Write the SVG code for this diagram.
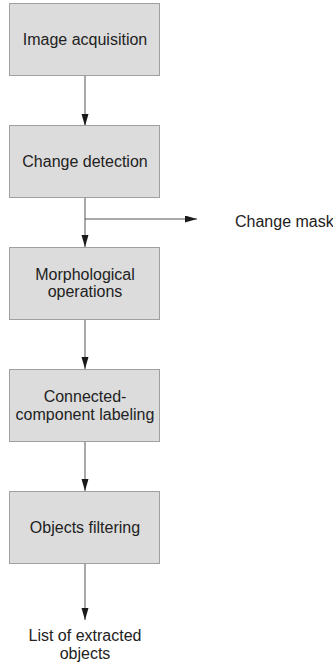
<svg xmlns="http://www.w3.org/2000/svg" width="333" height="663" viewBox="0 0 333 663">
<style>
.box{fill:#dcdcdc;stroke:#a0a0a0;stroke-width:1}
.t{font-family:"Liberation Sans",Arial,sans-serif;font-size:16px;fill:#222;text-anchor:middle}
.tl{font-family:"Liberation Sans",Arial,sans-serif;font-size:16px;fill:#222}
.c{stroke:#555;stroke-width:1;fill:none;marker-end:url(#ah)}
</style>
<defs>
<marker id="ah" markerUnits="userSpaceOnUse" markerWidth="13" markerHeight="8" refX="12" refY="3.5" orient="auto">
<path d="M0,0 L12,3.5 L0,7 Z" fill="#1a1a1a"/>
</marker>
</defs>
<rect width="333" height="663" fill="#fff"/>
<g id="connectors">
<line class="c" x1="85" y1="75" x2="85" y2="126"/>
<line class="c" x1="85" y1="197" x2="85" y2="247"/>
<line class="c" x1="85" y1="219" x2="197" y2="219"/>
<line class="c" x1="85" y1="319" x2="85" y2="369"/>
<line class="c" x1="85" y1="441" x2="85" y2="491"/>
<line class="c" x1="85" y1="563" x2="85" y2="620"/>
</g>
<g id="n1"><rect class="box" x="9.5" y="3.5" width="150" height="72"/><text class="t" x="85" y="44.5">Image acquisition</text></g>
<g id="n2"><rect class="box" x="9.5" y="125.5" width="150" height="72"/><text class="t" x="85" y="166.5">Change detection</text></g>
<g id="n3"><rect class="box" x="9.5" y="247.5" width="150" height="72"/><text class="t" x="85" y="279.5">Morphological</text><text class="t" x="85" y="297">operations</text></g>
<g id="n4"><rect class="box" x="9.5" y="369.5" width="150" height="72"/><text class="t" x="85" y="401.5">Connected-</text><text class="t" x="85" y="419.5">component labeling</text></g>
<g id="n5"><rect class="box" x="9.5" y="491.5" width="150" height="72"/><text class="t" x="85" y="532.5">Objects filtering</text></g>
<g id="out1"><text class="tl" x="235" y="227">Change mask</text></g>
<g id="out2"><text class="t" x="85" y="641">List of extracted</text><text class="t" x="85" y="659">objects</text></g>
</svg>
